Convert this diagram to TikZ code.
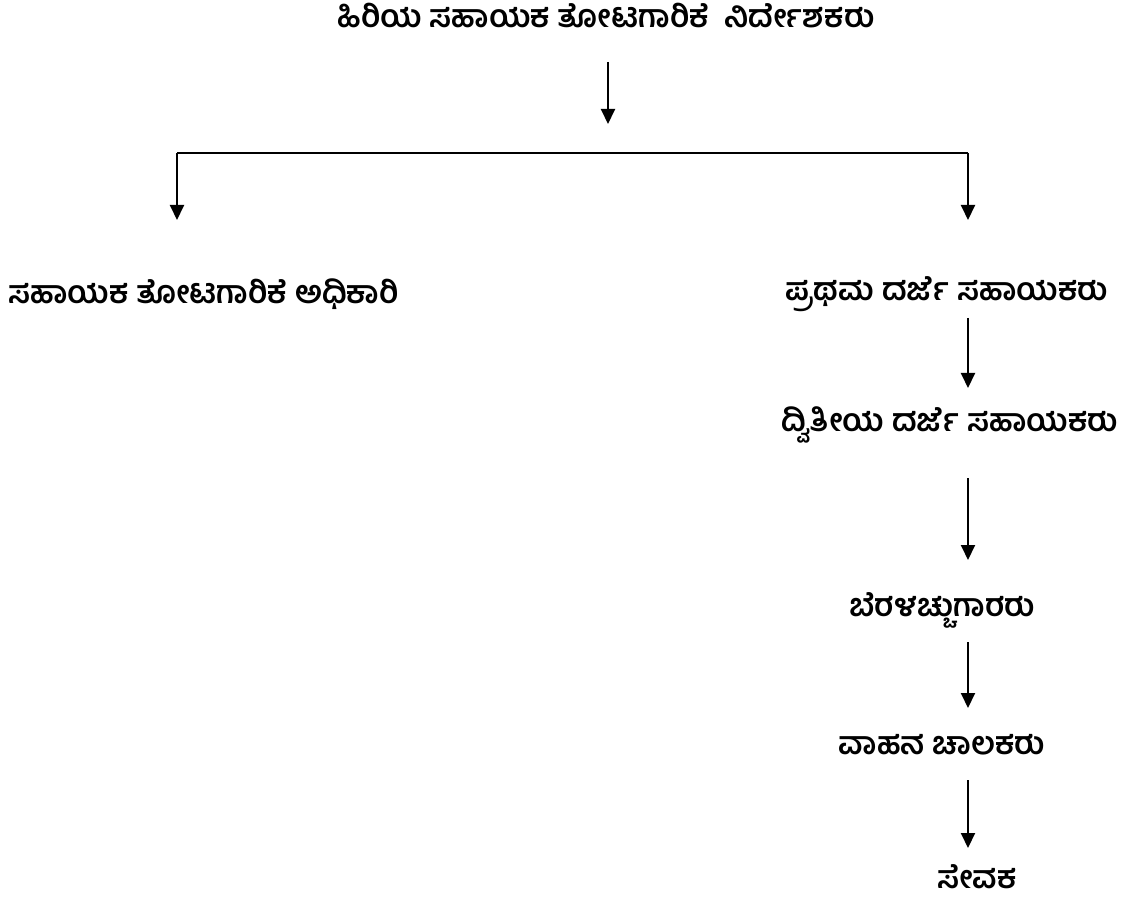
\documentclass[tikz,border=0pt]{standalone}
\usepackage{fontspec}
\usetikzlibrary{arrows.meta}
\newfontfamily\kannadafont[Script=Kannada]{Hind Mysuru}
\tikzset{
    post/.style = {font=\kannadafont\bfseries\fontsize{31.5}{36}\selectfont, inner sep=0pt},
    flow/.style = {line width=2pt, -{Triangle[length=15pt,width=14pt]}},
    rule/.style = {line width=2pt},
}

\begin{document}
\begin{tikzpicture}[x=1pt,y=-1pt]
\useasboundingbox (0,0) rectangle (1128,909);
% posts
\node[post] (head) at (606,16) {ಹಿರಿಯ ಸಹಾಯಕ ತೋಟಗಾರಿಕೆ\ \ ನಿರ್ದೇಶಕರು};
\node[post, anchor=west] (officer) at (8,294) {ಸಹಾಯಕ ತೋಟಗಾರಿಕೆ ಅಧಿಕಾರಿ};
\node[post] (first) at (947,294) {ಪ್ರಥಮ ದರ್ಜೆ ಸಹಾಯಕರು};
\node[post] (second) at (950,425) {ದ್ವಿತೀಯ ದರ್ಜೆ ಸಹಾಯಕರು};
\node[post] (typist) at (942,610) {ಬೆರಳಚ್ಚುಗಾರರು};
\node[post] (driver) at (942,745) {ವಾಹನ ಚಾಲಕರು};
\node[post, anchor=base, text depth=0pt] (peon) at (977,888) {ಸೇವಕ};
% branch points
\coordinate (top-start) at (608,62);
\coordinate (top-end) at (608,124);
\coordinate (bar-left) at (177,153);
\coordinate (bar-right) at (968,153);
\coordinate (left-end) at (177,220);
\coordinate (right-end) at (968,220);
\coordinate (a1) at (968,318);
\coordinate (a2) at (968,388);
\coordinate (b1) at (968,478);
\coordinate (b2) at (968,560);
\coordinate (c1) at (968,642);
\coordinate (c2) at (968,708);
\coordinate (d1) at (968,780);
\coordinate (d2) at (968,848);
% connectors
\draw[flow] (top-start) -- (top-end);
\draw[rule] (bar-left) -- (bar-right);
\draw[flow] (bar-left) -- (left-end);
\draw[flow] (bar-right) -- (right-end);
\draw[flow] (a1) -- (a2);
\draw[flow] (b1) -- (b2);
\draw[flow] (c1) -- (c2);
\draw[flow] (d1) -- (d2);
\end{tikzpicture}
\end{document}
